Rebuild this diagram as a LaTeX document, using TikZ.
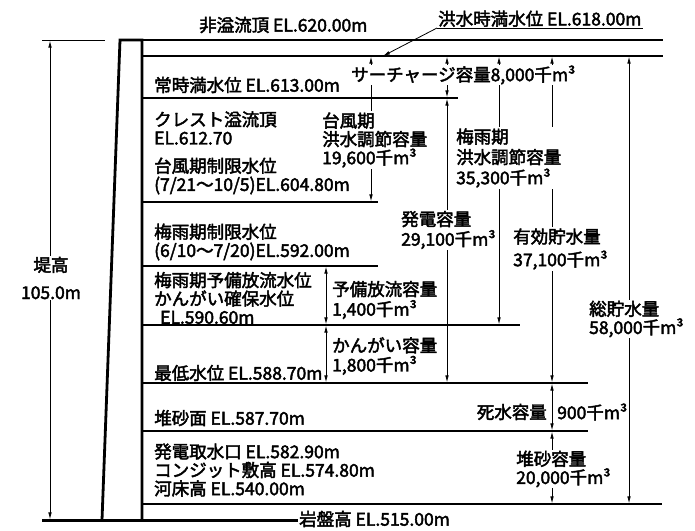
\documentclass[tikz,border=0pt]{standalone}
\usepackage{fontspec}
\setmainfont{Noto Sans CJK JP}[RawFeature={embolden=2.5}]
\usepackage{tikz}
\usetikzlibrary{arrows,arrows.meta,positioning,calc}
\tikzstyle{lev}     = [line width=1.2pt]
\tikzstyle{dimline} = [line width=0.8pt,<->,>={Latex[length=7pt,width=3.6pt]},shorten >=0.6pt,shorten <=0.6pt]
\tikzstyle{lbl}     = [anchor=west, align=left, inner sep=1pt]
\tikzstyle{mask}    = [lbl, fill=white]

\begin{document}
\begin{tikzpicture}[x=1pt,y=-1pt,font=\fontsize{17.5}{18.5}\selectfont]
        \useasboundingbox (0,0) rectangle (695,530);
        % dam body
        \draw[line width=2.8pt, line join=miter] (102,520) -- (120,40) -- (142,40) -- (142,520);
        \coordinate (rock) at (42,520);

        % water levels
        \foreach \n/\y/\xe in {L620/40/663, L618/56/663, L613/98/458, L604/202/378, L592/266/378,
                               L590/325/520, L588/383/588, L587/431/588, L540/504/662}
        {
            \coordinate (\n) at (142,\y);
            \draw[lev] (\n) -- (\xe,\y);
        }
        \draw[line width=1pt] (L620 -| rock) -- ++(63,0);

        % columns of the capacity arrows
        \foreach \n/\x in {xH/50, xR/326, xT/371, xS/447, xB/499, xE/552, xG/629}
            \coordinate (\n) at (\x,0);

        \draw[dimline] (L620 -| xH) -- (rock -| xH);
        \draw[dimline] (L618 -| xT) -- (L604 -| xT);
        \draw[dimline] (L618 -| xS) -- (L613 -| xS);
        \draw[dimline] (L613 -| xS) -- (L588 -| xS);
        \draw[dimline] (L618 -| xB) -- (L590 -| xB);
        \draw[dimline] (L618 -| xE) -- (L588 -| xE);
        \draw[dimline] (L618 -| xG) -- (L540 -| xG);
        \draw[dimline] (L592 -| xR) -- (L590 -| xR);
        \draw[dimline] (L590 -| xR) -- (L588 -| xR);
        \draw[dimline] (L588 -| xE) -- (L587 -| xE);
        \draw[dimline] (L587 -| xE) -- (L540 -| xE);

        % labels
        \node[lbl] (nonover) at (198,25) {非溢流頂 EL.620.00m};
        \node[lbl, anchor=south west] (hwl) at (437,28) {洪水時満水位 EL.618.00m};
        \coordinate (hwtip) at (383,56);
        \draw (hwl.south west) -- (hwl.south east);
        \draw[line width=0.8pt,-{Latex[length=7pt,width=3.6pt]}] (hwl.south west) -- (hwtip);

        \node[lbl] (nwl) at (153,85) {常時満水位 EL.613.00m};
        \node[mask] (surch) at (350,75) {サーチャージ容量8,000千m³};
        \node[lbl] (crest) at (153,128) {クレスト溢流頂\\EL.612.70};
        \node[lbl] (tylim) at (153,176) {台風期制限水位\\(7/21〜10/5)EL.604.80m};
        \node[mask] (tycap) at (321,140) {台風期\\洪水調節容量\\19,600千m³};
        \node[mask] (tsucap) at (455,158) {梅雨期\\[2pt]洪水調節容量\\[2pt]35,300千m³};
        \node[lbl] (tsulim) at (153,242) {梅雨期制限水位\\(6/10〜7/20)EL.592.00m};
        \node[mask] (power) at (400,230) {発電容量\\[1.5pt]29,100千m³};
        \node[mask] (eff) at (512,249) {有効貯水量\\[4.5pt]37,100千m³};
        \node[lbl] (pre) at (153,298) {梅雨期予備放流水位\\かんがい確保水位\\\hspace*{6pt}EL.590.60m};
        \node[lbl] (precap) at (331,300) {予備放流容量\\[1.5pt]1,400千m³};
        \node[lbl] (irrcap) at (331,356) {かんがい容量\\[1pt]1,800千m³};
        \node[lbl] (lowwl) at (153,373) {最低水位 EL.588.70m};
        \node[mask] (total) at (588,319) {総貯水量\\58,000千m³};
        \node[lbl, anchor=east] (deadA) at (548,412) {死水容量};
        \node[lbl] (deadB) at (556,412) {900千m³};
        \node[lbl] (sedsurf) at (153,418) {堆砂面 EL.587.70m};
        \node[mask] (sedcap) at (515,469) {堆砂容量\\20,000千m³};
        \node[lbl] (intake) at (153,470) {発電取水口 EL.582.90m\\コンジット敷高 EL.574.80m\\河床高 EL.540.00m};
        \node[lbl] (rocklbl) at (298,519) {岩盤高 EL.515.00m};
        \node[mask, anchor=center, align=center] (damh) at (51,278) {堤高\\[9pt]105.0m};

        % bedrock
        \draw[line width=3pt] (rock) -- (rock -| rocklbl.west);
\end{tikzpicture}
\end{document}
